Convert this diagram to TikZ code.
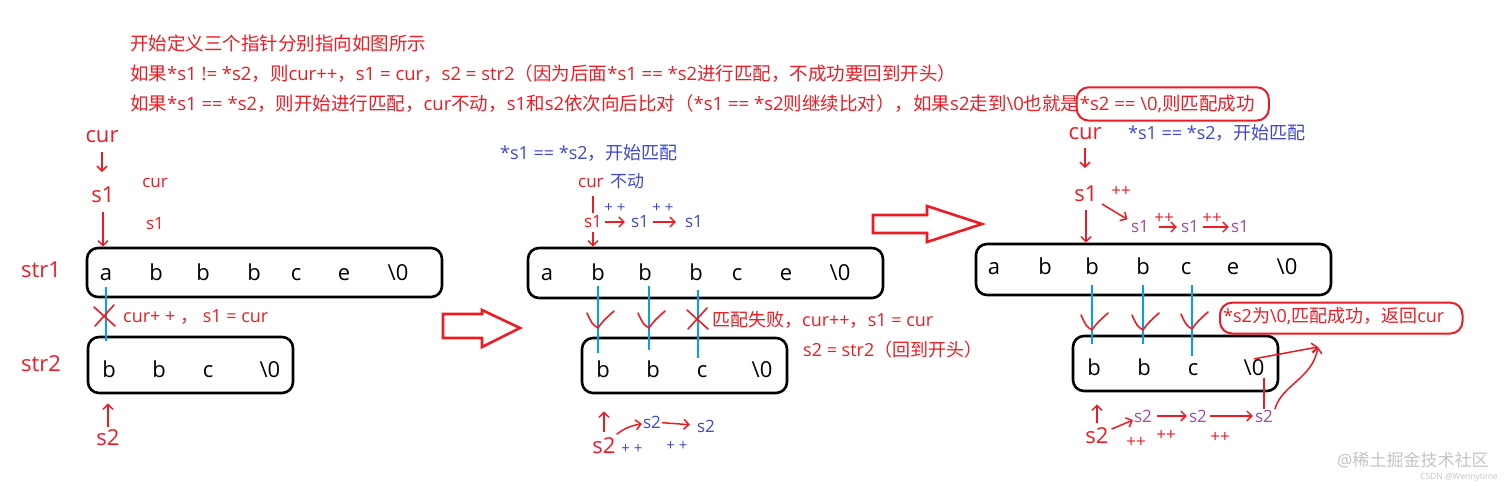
\documentclass[tikz,border=0pt]{standalone}
\usepackage{fontspec}
\setmainfont{Open Sans}
\newfontfamily\cjkfont{Noto Sans CJK SC}
\newcommand\zhs[1]{{\cjkfont #1}}
\usetikzlibrary{arrows.meta}
\definecolor{pred}{HTML}{ED1C24}
\definecolor{pblue}{HTML}{3F48CC}
\definecolor{pcyan}{HTML}{00A2E8}
\definecolor{ppurple}{HTML}{A349A4}
\definecolor{wgray}{HTML}{C4C4C4}
\tikzset{
 lb/.style={inner sep=0pt, anchor=base},
 lbw/.style={inner sep=0pt, anchor=base west},
 fbig/.style={font=\fontsize{22}{24}\selectfont},
 fmid/.style={font=\fontsize{17}{19}\selectfont},
 fsen/.style={font=\fontsize{18}{20}\selectfont},
 fsml/.style={font=\fontsize{15}{17}\selectfont},
 ftop/.style={font=\fontsize{18.5}{20}\selectfont},
 rd/.style={text=pred}, bl/.style={text=pblue}, pu/.style={text=ppurple},
 strbox/.style={draw=black, line width=2.6pt, rounded corners=11pt, inner sep=0pt},
 ch/.style={lb, fbig, text=black},
 harrow/.style={draw=pred, line width=1.5pt, -{Straight Barb[length=5pt,width=10pt]}},
 hline/.style={draw=pred, line width=1.5pt},
 link/.style={draw=pcyan, line width=2.6pt},
 hollow/.style={draw=pred, line width=2.6pt, fill=white, line join=miter},
 redbox/.style={draw=pred, line width=2pt, rounded corners=12pt},
 tick/.style={draw=pred, line width=1.6pt, line cap=round},
 vchk/.pic={\draw[tick] (-11,-15) .. controls (-6,-4) .. (0,0) .. controls (5,-7) .. (16,-17);},
 xmk/.pic={\draw[tick] (-10,-9) -- (11,10); \draw[tick] (-9,10) -- (10,-11);},
}
\begin{document}
\begin{tikzpicture}[x=1pt,y=-1pt]
\useasboundingbox[fill=white] (0,0) rectangle (1512,486);

% ---------- top text ----------
\node[lbw, ftop, rd] (t1) at (130,51) {\zhs{开始定义三个指针分别指向如图所示}};
\node[lbw, ftop, rd] (t2) at (130,81) {\zhs{如果}*s1 != *s2\zhs{，则}cur++\zhs{，}s1 = cur\zhs{，}s2 = str2\zhs{（因为后面}*s1 == *s2\zhs{进行匹配，不成功要回到开头）}};
\node[lbw, ftop, rd] (t3) at (130,111) {\zhs{如果}*s1 == *s2\zhs{，则开始进行匹配，}cur\zhs{不动，}s1\zhs{和}s2\zhs{依次向后比对（}*s1 == *s2\zhs{则继续比对），如果}s2\zhs{走到}\textbackslash 0\zhs{也就是}};
\node[lbw, ftop, rd] (t3b) at (t3.base east) {*s2 == \textbackslash 0,\zhs{则匹配成功}};
\draw[redbox] ([xshift=-3pt,yshift=8pt]t3b.north west) rectangle ([xshift=14pt,yshift=-7pt]t3b.south east);

% ---------- left panel ----------
\node[lb, fbig, rd] (curL) at (102,143) {cur};
\node[lb, fbig, rd] (s1L) at (103,203) {s1};
\node[lb, fmid, rd] (curS) at (155,188) {cur};
\node[lb, fmid, rd] (s1S) at (155,230) {s1};
\node[lb, fbig, rd] (str1L) at (41,277) {str1};
\node[lb, fbig, rd] (str2L) at (41,371) {str2};
\node[strbox, minimum width=355pt, minimum height=49pt] (bL1) at (264.5,272.5) {};
\node[strbox, minimum width=205pt, minimum height=56pt] (bL2) at (190.5,365) {};
\node[ch] (L1a) at (106,280) {a};
\node[ch] (L1b) at (156,280) {b};
\node[ch] (L1c) at (203,280) {b};
\node[ch] (L1d) at (254,280) {b};
\node[ch] (L1e) at (296,280) {c};
\node[ch] (L1f) at (344,280) {e};
\node[ch] (L1g) at (398,280) {\textbackslash 0};
\node[ch] (L2a) at (109,377) {b};
\node[ch] (L2b) at (159,377) {b};
\node[ch] (L2c) at (208,377) {c};
\node[ch] (L2d) at (270,377) {\textbackslash 0};
\node[lb, fbig, rd] (s2L) at (108,445) {s2};
\draw[harrow, shorten <=9pt, shorten >=15pt] (curL.south) -- (curL.south |- s1L.north);
\draw[harrow, shorten <=9pt] (s1L.south) -- (s1L.south |- bL1.north);
\draw[link, shorten <=7pt, shorten >=-5pt] (L1a.south) -- (L1a.south |- bL2.north);
\pic at (104,316) {xmk};
\node[lbw, fsen, rd] (failL) at (123,323) {cur+ + \zhs{，} s1 = cur};
\draw[harrow, shorten <=2pt, shorten >=9pt] (s2L.north) -- (s2L.north |- bL2.south);

% ---------- hollow arrows ----------
\draw[hollow] (443,314) -- (482,314) -- (482,310) -- (520,328) -- (482,347) -- (482,338) -- (443,338) -- cycle;
\draw[hollow] (873,215) -- (927,215) -- (927,206) -- (982,224) -- (927,242) -- (927,233) -- (873,233) -- cycle;

% ---------- middle panel ----------
\node[lbw, fsen, bl] (eqM) at (500,160) {*s1 == *s2\zhs{，开始匹配}};
\node[lbw, fmid, rd] (curM) at (578,188) {cur};
\node[lbw, fmid, bl] (dongM) at (610,188) {\zhs{不动}};
\node[lb, fmid, rd] (s1M1) at (593,228) {s1};
\node[lb, fmid, bl] (s1M2) at (640,228) {s1};
\node[lb, fmid, bl] (s1M3) at (694,228) {s1};
\node[lb, fsml, bl] (ppM1) at (615,213) {+ +};
\node[lb, fsml, bl] (ppM2) at (663,213) {+ +};
\draw[hline, shorten <=3pt, shorten >=8pt] (s1M1.north) -- (s1M1.north |- curM.south);
\draw[harrow, shorten <=3pt, shorten >=6pt] (s1M1) -- (s1M2);
\draw[harrow, shorten <=4pt, shorten >=9pt] (s1M2) -- (s1M3);
\node[strbox, minimum width=355pt, minimum height=50pt] (bM1) at (705.5,273) {};
\node[strbox, minimum width=205pt, minimum height=55pt] (bM2) at (684.5,365.5) {};
\draw[harrow, shorten <=4pt] (s1M1.south) -- (s1M1.south |- bM1.north);
\node[ch] (M1a) at (547,280) {a};
\node[ch] (M1b) at (598,280) {b};
\node[ch] (M1c) at (645,280) {b};
\node[ch] (M1d) at (696,280) {b};
\node[ch] (M1e) at (737,280) {c};
\node[ch] (M1f) at (786,280) {e};
\node[ch] (M1g) at (840,280) {\textbackslash 0};
\node[ch] (M2a) at (603,377) {b};
\node[ch] (M2b) at (653,377) {b};
\node[ch] (M2c) at (702,377) {c};
\node[ch] (M2d) at (762,377) {\textbackslash 0};
\draw[link, shorten <=6pt, shorten >=7pt] (M1b.south) -- (M1b.south |- M2a.north);
\draw[link, shorten <=6pt, shorten >=10pt] ([xshift=4pt]M1c.south) -- ([xshift=4pt]M1c.south |- M2b.north);
\draw[link, shorten <=10pt, shorten >=7pt] ([xshift=2pt]M1d.south) -- ([xshift=2pt]M1d.south |- M2c.north);
\pic at (598,328) {vchk};
\pic at (649,328) {vchk};
\pic at (697,319) {xmk};
\node[lbw, fsen, rd] (failM) at (712,326) {\zhs{匹配失败，}cur++\zhs{，}s1 = cur};
\node[lbw, fsen, rd] (backM) at (803,356) {s2 = str2\zhs{（回到开头）}};
\node[lb, fbig, rd] (s2M) at (604,453) {s2};
\node[lb, fsml, bl] (ppM3) at (632,453) {+ +};
\node[lb, fmid, bl] (s2M2) at (652,428) {s2};
\node[lb, fmid, bl] (s2M3) at (706,432) {s2};
\node[lb, fsml, bl] (ppM4) at (677,450) {+ +};
\draw[harrow, shorten <=5pt, shorten >=17pt] (s2M.north) -- (s2M.north |- bM2.south);
\draw[harrow, shorten <=4pt, shorten >=1pt] (s2M) to[bend left=15] (s2M2);
\draw[harrow, shorten <=1pt, shorten >=7pt] (s2M2) -- (s2M3);

% ---------- right panel ----------
\node[lb, fbig, rd] (curR) at (1085,140) {cur};
\node[lbw, fsen, bl] (eqR) at (1128,140) {*s1 == *s2\zhs{，开始匹配}};
\node[lb, fbig, rd] (s1R) at (1086,202) {s1};
\node[lb, fmid, rd] (ppR1) at (1121,197) {++};
\node[lb, fmid, pu] (s1R2) at (1140,233) {s1};
\node[lb, fmid, pu] (s1R3) at (1190,233) {s1};
\node[lb, fmid, pu] (s1R4) at (1240,233) {s1};
\node[lb, fmid, rd] (ppR2) at (1164,224) {++};
\node[lb, fmid, rd] (ppR3) at (1212,224) {++};
\draw[harrow, shorten <=8pt, shorten >=18pt] (curR.south) -- (curR.south |- s1R.north);
\draw[harrow, shorten <=5pt, shorten >=4pt] (s1R) -- (s1R2);
\draw[harrow, shorten <=10pt, shorten >=4pt] (s1R2) -- (s1R3);
\draw[harrow, shorten <=4pt, shorten >=2pt] (s1R3) -- (s1R4);
\node[strbox, minimum width=355pt, minimum height=51pt] (bR1) at (1153.5,269.5) {};
\node[strbox, minimum width=205pt, minimum height=55pt] (bR2) at (1175.5,363.5) {};
\draw[harrow, shorten <=8pt] (s1R.south) -- (s1R.south |- bR1.north);
\node[ch] (R1a) at (994,275) {a};
\node[ch] (R1b) at (1045,275) {b};
\node[ch] (R1c) at (1092,275) {b};
\node[ch] (R1d) at (1143,275) {b};
\node[ch] (R1e) at (1186,275) {c};
\node[ch] (R1f) at (1233,275) {e};
\node[ch] (R1g) at (1287,275) {\textbackslash 0};
\node[ch] (R2a) at (1094,375) {b};
\node[ch] (R2b) at (1144,375) {b};
\node[ch] (R2c) at (1193,375) {c};
\node[ch] (R2z) at (1254,375) {\textbackslash 0};
\draw[link, shorten <=10pt, shorten >=14pt] (R1c.south) -- (R1c.south |- R2a.north);
\draw[link, shorten <=10pt, shorten >=14pt] (R1d.south) -- (R1d.south |- R2b.north);
\draw[link, shorten <=10pt, shorten >=7pt] ([xshift=6pt]R1e.south) -- ([xshift=6pt]R1e.south |- R2c.north);
\pic at (1092,330) {vchk};
\pic at (1143,330) {vchk};
\pic at (1192,329) {vchk};
\node[lbw, fsen, rd] (okR) at (1223,322) {*s2\zhs{为}\textbackslash 0,\zhs{匹配成功，返回}cur};
\draw[redbox] ([xshift=-3pt,yshift=4pt]okR.north west) rectangle ([xshift=18pt,yshift=-9pt]okR.south east);
\node[lb, fbig, rd] (s2R) at (1097,443) {s2};
\node[lb, fmid, pu] (s2R2) at (1143,422) {s2};
\node[lb, fmid, pu] (s2R3) at (1198,422) {s2};
\node[lb, fmid, pu] (s2R4) at (1264,422) {s2};
\node[lb, fmid, rd] (ppR4) at (1136,447) {++};
\node[lb, fmid, rd] (ppR5) at (1166,440) {++};
\node[lb, fmid, rd] (ppR6) at (1220,442) {++};
\draw[harrow, shorten <=4pt, shorten >=12pt] (s2R.north) -- (s2R.north |- bR2.south);
\draw[harrow, shorten <=3pt, shorten >=1pt] (s2R) -- (s2R2);
\draw[harrow, shorten <=5pt, shorten >=2pt] (s2R2) -- (s2R3);
\draw[harrow, shorten <=3pt, shorten >=2pt] (s2R3) -- (s2R4);
\draw[hline, shorten <=0pt, shorten >=3pt] (s2R4.north) -- (s2R4.north |- R2z.south);
\coordinate (tipR) at (1318,347);
\draw[harrow, shorten <=7pt] (s2R4.east) to[out=75,in=-100] (tipR);
\draw[harrow] (R2z.north) -- (tipR);

% ---------- watermark ----------
\node[lbw, font=\fontsize{17}{19}\selectfont, text=wgray] (wm1) at (1337,466) {@\zhs{稀土掘金技术社区}};
\node[lbw, font=\fontsize{8.5}{10}\selectfont, text=wgray] (wm2) at (1420,479) {CSDN @Wennytime};
\end{tikzpicture}
\end{document}
